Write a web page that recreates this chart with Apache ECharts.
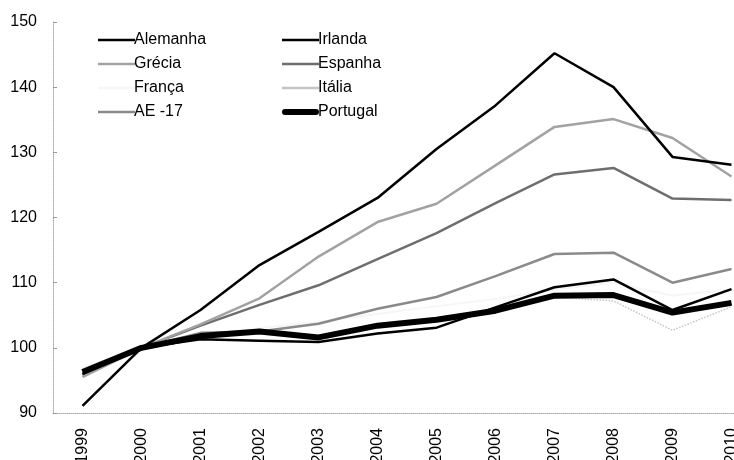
<!DOCTYPE html>
<html>
<head>
<meta charset="utf-8">
<script src="https://cdn.jsdelivr.net/npm/echarts@6/dist/echarts.min.js"></script>
<style>
  html, body { margin: 0; padding: 0; background: #fff; overflow: hidden; }
</style>
</head>
<body>
<!-- the original is cropped on the right, so the chart is a bit wider than its box -->
<div style="position: relative; width: 734px; height: 460px; overflow: hidden">
  <div id="chart" style="position: absolute; left: 0; top: 0; width: 761px; height: 460px"></div>
</div>
<script>
  // anos
  var anos = ['1999','2000','2001','2002','2003','2004','2005','2006','2007','2008','2009','2010']

  var alemanha = [96.0, 100, 101.3, 101.1, 100.9, 102.2, 103.1, 106.2, 109.3, 110.5, 105.8, 109.0]
  var irlanda  = [91.1, 100, 105.8, 112.7, 117.8, 123.0, 130.5, 137.2, 145.2, 140.0, 129.3, 128.1]
  var grecia   = [95.5, 100, 103.6, 107.6, 114.0, 119.3, 122.1, 128.0, 133.9, 135.1, 132.2, 126.3]
  var espanha  = [95.8, 100, 103.4, 106.6, 109.6, 113.6, 117.6, 122.2, 126.6, 127.6, 122.9, 122.7]
  var franca   = [97.0, 100, 102.0, 103.0, 104.0, 105.2, 106.4, 107.5, 109.0, 110.0, 108.0, 109.0]
  var italia   = [96.0, 100, 102.0, 102.8, 101.8, 103.1, 104.2, 106.0, 107.8, 107.2, 102.7, 106.3]
  var ae17     = [96.0, 100, 102.3, 102.5, 103.7, 106.0, 107.8, 111.0, 114.4, 114.6, 110.0, 112.1]
  var portugal = [96.3, 100, 101.8, 102.5, 101.6, 103.4, 104.3, 105.7, 108.0, 108.1, 105.4, 106.9]

  var fonte = 'Liberation Sans, Arial, sans-serif'
  var linhaFina = 'path://M0,0 L37,0 L37,2.5 L0,2.5 Z'
  var linhaGrossa = 'path://M3,0 L34,0 Q37,0 37,3 Q37,6 34,6 L3,6 Q0,6 0,3 Q0,0 3,0 Z'

  function serie(nome, dados, cor, largura, tipo) {
    return {
      name: nome,
      type: 'line',
      data: dados,
      symbol: 'none',
      smooth: false,
      lineStyle: { color: cor, width: largura, type: tipo || 'solid' },
      itemStyle: { color: cor }
    }
  }

  function legenda(x, nomes) {
    return {
      orient: 'vertical',
      left: x,
      top: 27,
      itemWidth: 37,
      itemHeight: 14,
      itemGap: 8,
      textStyle: { fontSize: 16, color: '#000', fontFamily: fonte, padding: [0, 0, 0, -6] },
      data: nomes.map(function (n) {
        return { name: n, icon: n == 'Portugal' ? linhaGrossa : linhaFina }
      })
    }
  }

  var chart = echarts.init(document.getElementById('chart'))
  var option = {
    animation: false,
    backgroundColor: '#fff',
    textStyle: { fontFamily: fonte },
    legend: [
      legenda(93, ['Alemanha', 'Grécia', 'França', 'AE -17']),
      legenda(277, ['Irlanda', 'Espanha', 'Itália', 'Portugal'])
    ],
    grid: {
      left: 53,
      right: 0,
      top: 22,
      bottom: 47,
      // labels run off the bottom edge in the original, don't shrink the grid for them
      outerBoundsMode: 'none'
    },
    xAxis: {
      type: 'category',
      boundaryGap: true,
      data: anos,
      axisLine: { lineStyle: { color: '#aaa', type: 'dotted' } },
      axisTick: { show: false },
      axisLabel: { rotate: 90, margin: 15, fontSize: 16, color: '#000', fontFamily: fonte }
    },
    yAxis: {
      type: 'value',
      min: 90,
      max: 150,
      interval: 10,
      splitLine: { show: false },
      axisLine: { show: true, lineStyle: { color: '#aaa', type: 'dotted' } },
      axisTick: { show: true, inside: true, length: 4, lineStyle: { color: '#999' } },
      axisLabel: { margin: 16, fontSize: 16, color: '#000', fontFamily: fonte }
    },
    series: [
      serie('França', franca, '#f6f6f6', 2),
      serie('Itália', italia, '#c4c4c4', 1.5, 'dotted'),
      serie('AE -17', ae17, '#8a8a8a', 2.5),
      serie('Espanha', espanha, '#6e6e6e', 2.5),
      serie('Grécia', grecia, '#a2a2a2', 2.5),
      serie('Alemanha', alemanha, '#000', 2.5),
      serie('Portugal', portugal, '#000', 6),
      serie('Irlanda', irlanda, '#000', 2.5)
    ]
  }
  chart.setOption(option)
</script>
</body>
</html>
